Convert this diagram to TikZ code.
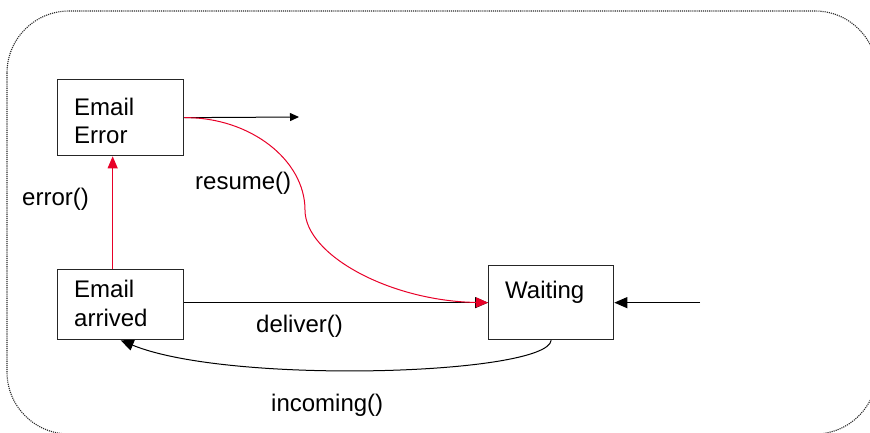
\documentclass[tikz,border=0pt]{standalone}
\usepackage{fontspec}
\setmainfont{Liberation Sans}
\usetikzlibrary{arrows.meta}
\definecolor{flowred}{RGB}{232,0,40}
\definecolor{framegray}{RGB}{40,40,40}
\begin{document}
\begin{tikzpicture}[x=1pt,y=-1pt,
  state/.style={draw=black!85, line width=1.3pt, inner sep=0pt, anchor=north west},
  lbl/.style={inner sep=0pt, anchor=base west, font=\fontsize{24}{28}\selectfont},
  edge/.style={draw=black, line width=1pt, -{Triangle[length=13pt,width=11pt]}},
  smalledge/.style={draw=black, line width=1pt, -{Triangle[length=9pt,width=8pt]}},
  redflow/.style={draw=flowred, line width=1pt, -{Triangle[length=12pt,width=10pt]}, flowred},
  frame/.style={draw=framegray, line width=1.1pt, dash pattern=on 1.1pt off 1pt, rounded corners=62pt}
]
\clip (0,0) rectangle (870,432);

% outer dotted frame
\draw[frame] (7,11) rectangle (877,434);

% states
\node[state, minimum width=126pt, minimum height=76pt] (err) at (57,79) {};
\node[state, minimum width=126pt, minimum height=70pt] (arr) at (57,269) {};
\node[state, minimum width=125pt, minimum height=74pt] (wait) at (488,265) {};

% state names
\node[lbl] (errA) at (74,115.5) {Email};
\node[lbl] (errB) at (74,143.5) {Error};
\node[lbl] (arrA) at (74,297.5) {Email};
\node[lbl] (arrB) at (74,326) {arrived};
\node[lbl] (waitA) at (505,298) {Waiting};

% free ends
\coordinate (topend) at (299,117);
\coordinate (rightstart) at (700,301);
\coordinate (bend) at (305,210);

% transitions
\draw[smalledge] (err.east) -- (topend);
\draw[edge] (arr.east |- wait.west) -- (wait.west);
\draw[edge] (rightstart |- wait.east) -- (wait.east);
\draw[edge] (wait.south) .. controls (547,375) and (230,385) .. (arr.south);
\draw[redflow] ([xshift=-8pt]arr.north) -- ([xshift=-8pt]err.south);
\draw[redflow] (err.east) .. controls (250,117) and (305,160) .. (bend)
  .. controls (305,255) and (390,301) .. (wait.west);

% transition labels
\node[lbl] (lerror) at (22,205) {error()};
\node[lbl] (lresume) at (195,189) {resume()};
\node[lbl] (ldeliver) at (256,332) {deliver()};
\node[lbl] (lincoming) at (271,411) {incoming()};
\end{tikzpicture}
\end{document}
